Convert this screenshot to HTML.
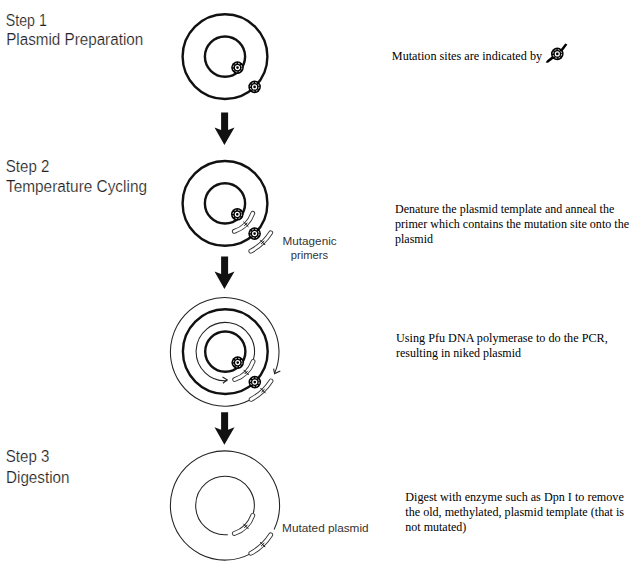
<!DOCTYPE html>
<html><head><meta charset="utf-8"><style>
html,body{margin:0;padding:0;background:#fff;}
body{width:636px;height:573px;overflow:hidden;position:relative;}
svg{position:absolute;left:0;top:0;}
.sa{font-family:"Liberation Sans",sans-serif;}
.se{font-family:"Liberation Serif",serif;}
</style></head><body>
<svg width="636" height="573" viewBox="0 0 636 573">
<rect width="636" height="573" fill="#fff"/>
<circle cx="225" cy="56.6" r="42.4" fill="none" stroke="#111" stroke-width="2.4"/><circle cx="225" cy="56.6" r="20.1" fill="none" stroke="#111" stroke-width="2.4"/><g transform="translate(237.5 67.6)"><circle r="6.3" fill="#000"/><circle r="4.35" fill="none" stroke="#fff" stroke-width="0.85" stroke-dasharray="1.9 1.52"/><circle r="1.95" fill="none" stroke="#fff" stroke-width="1.25"/></g><g transform="translate(254.6 86.9)"><circle r="6.3" fill="#000"/><circle r="4.35" fill="none" stroke="#fff" stroke-width="0.85" stroke-dasharray="1.9 1.52"/><circle r="1.95" fill="none" stroke="#fff" stroke-width="1.25"/></g><polygon points="221.1,112.5 228.1,112.5 228.1,130.0 234.5,127.5 224.4,145.0 214.5,127.5 221.1,130.0" fill="#111"/><circle cx="225" cy="203.4" r="42.4" fill="none" stroke="#111" stroke-width="2.4"/><circle cx="225" cy="203.4" r="20.1" fill="none" stroke="#111" stroke-width="2.4"/><path d="M234.31 231.39A29.5 29.5 0 0 0 252.79 213.30" fill="none" stroke="#333" stroke-width="4.8" stroke-linecap="round"/><path d="M234.31 231.39A29.5 29.5 0 0 0 252.79 213.30" fill="none" stroke="#fff" stroke-width="3.0" stroke-linecap="round"/><path d="M243.31 221.71L248.41 226.81M247.42 222.70L244.30 225.82" stroke="#111" stroke-width="1.0" fill="none"/><path d="M250.83 251.16A54.3 54.3 0 0 0 270.69 232.74" fill="none" stroke="#333" stroke-width="4.8" stroke-linecap="round"/><path d="M250.83 251.16A54.3 54.3 0 0 0 270.69 232.74" fill="none" stroke="#fff" stroke-width="3.0" stroke-linecap="round"/><path d="M260.22 239.87L265.22 245.05M264.30 240.93L261.14 243.99" stroke="#111" stroke-width="1.0" fill="none"/><g transform="translate(237.3 214.3)"><circle r="6.3" fill="#000"/><circle r="4.35" fill="none" stroke="#fff" stroke-width="0.85" stroke-dasharray="1.9 1.52"/><circle r="1.95" fill="none" stroke="#fff" stroke-width="1.25"/></g><g transform="translate(254.6 233.6)"><circle r="6.3" fill="#000"/><circle r="4.35" fill="none" stroke="#fff" stroke-width="0.85" stroke-dasharray="1.9 1.52"/><circle r="1.95" fill="none" stroke="#fff" stroke-width="1.25"/></g><polygon points="221.1,256.6 228.1,256.6 228.1,274.1 234.5,271.6 224.4,289.1 214.5,271.6 221.1,274.1" fill="#111"/><circle cx="225.3" cy="351.6" r="42.4" fill="none" stroke="#111" stroke-width="2.4"/><circle cx="225.3" cy="351.6" r="20.1" fill="none" stroke="#111" stroke-width="2.4"/><path d="M253.51 359.16A29.2 29.2 0 1 0 227.34 380.73" fill="none" stroke="#222" stroke-width="1.05"/><path d="M249.35 400.28A54.3 54.3 0 1 1 274.68 373.12" fill="none" stroke="#222" stroke-width="1.05"/><path d="M222.5 377.1L227.2 379.8L222.9 383.2" fill="none" stroke="#222" stroke-width="1.1"/><path d="M273.6 368.6L274.6 373.6L280.3 371.0" fill="none" stroke="#222" stroke-width="1.1"/><path d="M234.61 379.59A29.5 29.5 0 0 0 253.09 361.50" fill="none" stroke="#333" stroke-width="4.8" stroke-linecap="round"/><path d="M234.61 379.59A29.5 29.5 0 0 0 253.09 361.50" fill="none" stroke="#fff" stroke-width="3.0" stroke-linecap="round"/><path d="M243.61 369.91L248.71 375.01M247.72 370.90L244.60 374.02" stroke="#111" stroke-width="1.0" fill="none"/><path d="M251.13 399.36A54.3 54.3 0 0 0 270.99 380.94" fill="none" stroke="#333" stroke-width="4.8" stroke-linecap="round"/><path d="M251.13 399.36A54.3 54.3 0 0 0 270.99 380.94" fill="none" stroke="#fff" stroke-width="3.0" stroke-linecap="round"/><path d="M260.52 388.07L265.52 393.25M264.60 389.13L261.44 392.19" stroke="#111" stroke-width="1.0" fill="none"/><g transform="translate(237.7 362.6)"><circle r="6.3" fill="#000"/><circle r="4.35" fill="none" stroke="#fff" stroke-width="0.85" stroke-dasharray="1.9 1.52"/><circle r="1.95" fill="none" stroke="#fff" stroke-width="1.25"/></g><g transform="translate(254.8 382.1)"><circle r="6.3" fill="#000"/><circle r="4.35" fill="none" stroke="#fff" stroke-width="0.85" stroke-dasharray="1.9 1.52"/><circle r="1.95" fill="none" stroke="#fff" stroke-width="1.25"/></g><polygon points="221.1,412.2 228.1,412.2 228.1,429.7 234.5,427.2 224.4,444.7 214.5,427.2 221.1,429.7" fill="#111"/><path d="M253.30 513.08A29.3 29.3 0 1 0 227.81 534.67" fill="none" stroke="#222" stroke-width="1.05"/><path d="M249.79 554.15A54.6 54.6 0 1 1 274.07 529.44" fill="none" stroke="#222" stroke-width="1.05"/><path d="M234.31 533.49A29.5 29.5 0 0 0 252.79 515.40" fill="none" stroke="#333" stroke-width="4.8" stroke-linecap="round"/><path d="M234.31 533.49A29.5 29.5 0 0 0 252.79 515.40" fill="none" stroke="#fff" stroke-width="3.0" stroke-linecap="round"/><path d="M243.31 523.81L248.41 528.91M247.42 524.80L244.30 527.92" stroke="#111" stroke-width="1.0" fill="none"/><path d="M250.83 553.26A54.3 54.3 0 0 0 270.69 534.84" fill="none" stroke="#333" stroke-width="4.8" stroke-linecap="round"/><path d="M250.83 553.26A54.3 54.3 0 0 0 270.69 534.84" fill="none" stroke="#fff" stroke-width="3.0" stroke-linecap="round"/><path d="M260.22 541.97L265.22 547.15M264.30 543.03L261.14 546.09" stroke="#111" stroke-width="1.0" fill="none"/>
<path d="M545.6 62.6 L547.2 60.2 L553 55.5 L561 49 L565.2 43.6 L567.4 44.6 L563 50.5 L555 57.5 L548 62.8 Z" fill="#000"/><g transform="translate(557.3 53.9)"><circle r="6.3" fill="#000"/><circle r="4.35" fill="none" stroke="#fff" stroke-width="0.85" stroke-dasharray="1.9 1.52"/><circle r="1.95" fill="none" stroke="#fff" stroke-width="1.25"/></g>
<g class="sa" stroke="#fff" stroke-width="0.2" paint-order="fill"><text x="5.8" y="25.5" font-size="16" fill="#222" textLength="41" lengthAdjust="spacingAndGlyphs">Step 1</text><text x="6.2" y="45.2" font-size="16" fill="#222" textLength="137" lengthAdjust="spacingAndGlyphs">Plasmid Preparation</text><text x="5.8" y="172.0" font-size="16" fill="#222" textLength="43.5" lengthAdjust="spacingAndGlyphs">Step 2</text><text x="6.0" y="192.0" font-size="16" fill="#222" textLength="141" lengthAdjust="spacingAndGlyphs">Temperature Cycling</text><text x="5.8" y="462.0" font-size="16" fill="#222" textLength="43.5" lengthAdjust="spacingAndGlyphs">Step 3</text><text x="6.0" y="482.5" font-size="16" fill="#222" textLength="63.5" lengthAdjust="spacingAndGlyphs">Digestion</text></g>
<g class="sa"><text x="282.6" y="245.1" font-size="11.8" fill="#333" textLength="54" lengthAdjust="spacingAndGlyphs">Mutagenic</text><text x="290.8" y="258.7" font-size="11.8" fill="#333" textLength="37.3" lengthAdjust="spacingAndGlyphs">primers</text><text x="282.1" y="532.0" font-size="11.8" fill="#333" textLength="86.5" lengthAdjust="spacingAndGlyphs">Mutated plasmid</text></g>
<g class="se"><text x="391.8" y="60" font-size="12" fill="#000" textLength="150.3" lengthAdjust="spacingAndGlyphs">Mutation sites are indicated by</text><text x="395.0" y="212.9" font-size="12" fill="#000">Denature the plasmid template and anneal the</text><text x="395.0" y="227.70000000000002" font-size="12" fill="#000" textLength="234.1" lengthAdjust="spacingAndGlyphs">primer which contains the mutation site onto the</text><text x="395.0" y="242.5" font-size="12" fill="#000">plasmid</text><text x="396.0" y="341.9" font-size="12" fill="#000" textLength="211.7" lengthAdjust="spacingAndGlyphs">Using Pfu DNA polymerase to do the PCR,</text><text x="396.0" y="356.5" font-size="12" fill="#000">resulting in niked plasmid</text><text x="405.3" y="500.5" font-size="12" fill="#000" textLength="218.5" lengthAdjust="spacingAndGlyphs">Digest with enzyme such as Dpn I to remove</text><text x="405.3" y="515.5" font-size="12" fill="#000" textLength="218.8" lengthAdjust="spacingAndGlyphs">the old, methylated, plasmid template (that is</text><text x="405.3" y="530.5" font-size="12" fill="#000">not mutated)</text></g>
</svg>
</body></html>
